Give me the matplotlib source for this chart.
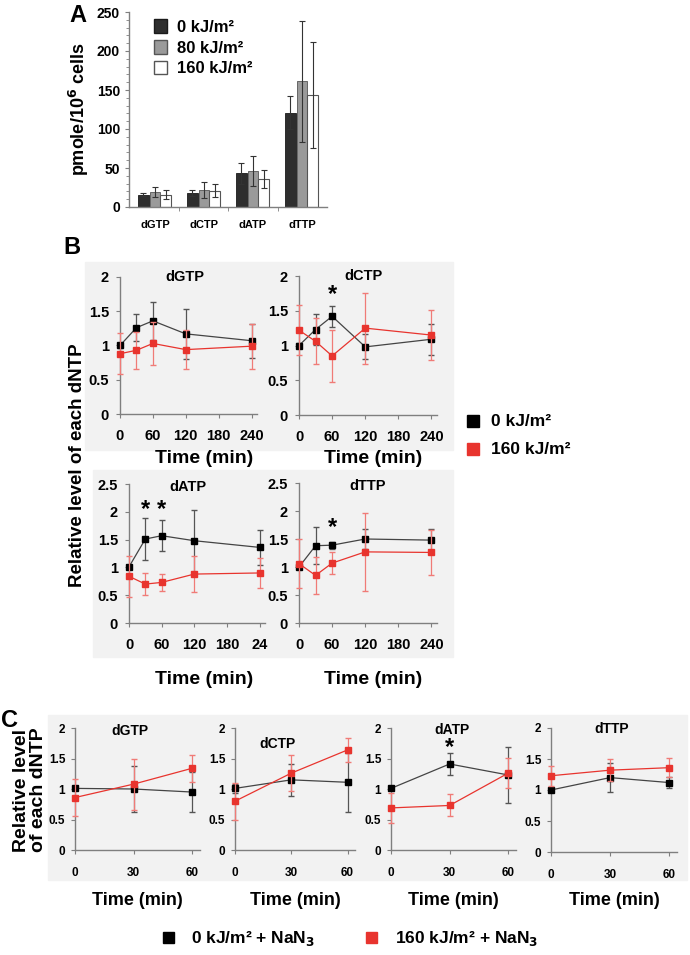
import numpy as np
import matplotlib
matplotlib.use('Agg')
import matplotlib.pyplot as plt
from matplotlib.patches import Rectangle, Patch

plt.rcParams['font.family'] = ['Liberation Sans', 'DejaVu Sans']

W, H = 690, 955

# panel A data
cats = ['dGTP', 'dCTP', 'dATP', 'dTTP']
a_0 = [16, 18, 43, 121]
a_0_err = [2.5, 4, 13, 21]
a_80 = [19, 22, 46, 161]
a_80_err = [6, 10, 19, 78]
a_160 = [16, 21, 36, 144]
a_160_err = [6, 8, 12, 68]

# panel B data (time course, min)
b_time = [0, 30, 60, 120, 240]
b_names = ['dGTP', 'dCTP', 'dATP', 'dTTP']
b_ctrl = {
    'dGTP': [1.0, 1.26, 1.36, 1.17, 1.07],
    'dCTP': [1.0, 1.23, 1.42, 0.98, 1.09],
    'dATP': [1.01, 1.51, 1.57, 1.48, 1.36],
    'dTTP': [1.0, 1.38, 1.39, 1.5, 1.48],
}
b_ctrl_err = {
    'dGTP': [0.03, 0.2, 0.28, 0.36, 0.25],
    'dCTP': [0.03, 0.22, 0.15, 0.18, 0.22],
    'dATP': [0.03, 0.37, 0.28, 0.56, 0.32],
    'dTTP': [0.03, 0.33, 0.06, 0.18, 0.19],
}
b_uv = {
    'dGTP': [0.88, 0.93, 1.03, 0.94, 0.99],
    'dCTP': [1.22, 1.06, 0.85, 1.25, 1.15],
    'dATP': [0.84, 0.7, 0.73, 0.88, 0.9],
    'dTTP': [1.06, 0.85, 1.07, 1.27, 1.26],
}
b_uv_err = {
    'dGTP': [0.3, 0.27, 0.32, 0.29, 0.33],
    'dCTP': [0.36, 0.33, 0.37, 0.51, 0.36],
    'dATP': [0.37, 0.2, 0.15, 0.33, 0.27],
    'dTTP': [0.44, 0.33, 0.2, 0.69, 0.4],
}
b_stars = {'dCTP': [(60, 1.73)], 'dATP': [(30, 2.05), (60, 2.05)], 'dTTP': [(60, 1.7)]}
b_xticklabels = {
    'dGTP': ['0', '60', '120', '180', '240'],
    'dCTP': ['0', '60', '120', '180', '240'],
    'dATP': ['0', '60', '120', '180', '24'],
    'dTTP': ['0', '60', '120', '180', '240'],
}

# panel C data (with NaN3)
c_time = [0, 30, 60]
c_ctrl = {
    'dGTP': [1.01, 1.0, 0.95],
    'dCTP': [1.01, 1.15, 1.11],
    'dATP': [1.01, 1.41, 1.23],
    'dTTP': [1.0, 1.2, 1.12],
}
c_ctrl_err = {
    'dGTP': [0.03, 0.37, 0.33],
    'dCTP': [0.08, 0.26, 0.48],
    'dATP': [0.03, 0.18, 0.46],
    'dTTP': [0.03, 0.24, 0.09],
}
c_uv = {
    'dGTP': [0.86, 1.08, 1.34],
    'dCTP': [0.8, 1.26, 1.64],
    'dATP': [0.69, 0.73, 1.26],
    'dTTP': [1.23, 1.32, 1.36],
}
c_uv_err = {
    'dGTP': [0.31, 0.42, 0.22],
    'dCTP': [0.3, 0.29, 0.19],
    'dATP': [0.24, 0.18, 0.25],
    'dTTP': [0.16, 0.18, 0.15],
}
c_stars = {'dATP': [(30, 1.68)]}

RED = '#e8342e'
AXC = '#7f7f7f'


def box(l, t, r, b):
    return [l / W, 1 - b / H, (r - l) / W, (b - t) / H]


def bg(l, t, r, b):
    fig.patches.append(Rectangle((l / W, 1 - b / H), (r - l) / W, (b - t) / H,
                                 transform=fig.transFigure, color='#f2f2f2', zorder=-10))


def square(l, t, size, color):
    fig.patches.append(Rectangle((l / W, 1 - (t + size) / H), size / W, size / H,
                                 transform=fig.transFigure, color=color, zorder=2))


def style_axes(ax, fs):
    for s in ['top', 'right']:
        ax.spines[s].set_visible(False)
    for s in ['left', 'bottom']:
        ax.spines[s].set_color(AXC)
        ax.spines[s].set_linewidth(1.0)
    ax.tick_params(colors=AXC, labelcolor='black', length=3, width=0.8, labelsize=fs)
    for lab in ax.get_xticklabels() + ax.get_yticklabels():
        lab.set_fontweight('bold')
    ax.set_facecolor('none')


def draw_course(ax, t, ctrl, ctrl_err, uv, uv_err):
    ax.errorbar(t, ctrl, yerr=ctrl_err, color='#444444', lw=0.9, elinewidth=0.9,
                ecolor='#555555', capsize=2, marker='s', markersize=5,
                mfc='black', mec='black', zorder=3, clip_on=False)
    ax.errorbar(t, uv, yerr=uv_err, color=RED, lw=0.9, elinewidth=0.9,
                ecolor='#f07b77', capsize=2, marker='s', markersize=5,
                mfc=RED, mec=RED, zorder=4, clip_on=False)


fig = plt.figure(figsize=(W / 100, H / 100), dpi=100)

# gray panel backgrounds
bg(85, 262, 453, 450)
bg(93, 470, 453, 657)
bg(48, 715, 687, 880)

# ---------------- panel A ----------------
axA = fig.add_axes(box(129, 12, 327, 207))
x = np.arange(len(cats))
bw = 0.22
ek = dict(ecolor='#333333', elinewidth=0.8, capsize=2.5, capthick=0.8)
axA.bar(x - 0.235, a_0, bw, yerr=a_0_err, color='#2e2e2e', edgecolor='#1a1a1a', lw=0.6, error_kw=ek)
axA.bar(x, a_80, bw, yerr=a_80_err, color='#9a9a9a', edgecolor='#555555', lw=0.6, error_kw=ek)
axA.bar(x + 0.22, a_160, bw, yerr=a_160_err, color='white', edgecolor='#555555', lw=0.8, error_kw=ek)
axA.set_xlim(-0.53, 3.51)
axA.set_ylim(0, 250)
axA.set_yticks(np.arange(0, 251, 50))
axA.set_yticks(np.arange(0, 251, 10), minor=True)
axA.set_xticks(x)
axA.set_xticklabels(cats)
axA.set_xticks([0.5, 1.5, 2.5], minor=True)
style_axes(axA, 10)
axA.tick_params(axis='x', which='major', length=0, labelsize=8, pad=9)
axA.tick_params(axis='x', which='minor', length=3, color=AXC)
axA.tick_params(axis='y', which='minor', length=2, color=AXC)
axA.set_ylabel('pmole/10$^\\mathbf{6}$ cells', fontsize=13, fontweight='bold', labelpad=4)
handles = [Patch(facecolor='#2e2e2e', edgecolor='#1a1a1a'),
           Patch(facecolor='#9a9a9a', edgecolor='#555555'),
           Patch(facecolor='white', edgecolor='#555555')]
axA.legend(handles, ['0 kJ/m²', '80 kJ/m²', '160 kJ/m²'], loc='upper left',
           bbox_to_anchor=(0.05, 1.04), frameon=False, prop={'weight': 'bold', 'size': 12},
           handlelength=0.8, handleheight=0.9, handletextpad=0.6, labelspacing=0.3)
fig.text(78 / W, 1 - 16 / H, 'A', fontsize=17, fontweight='bold', ha='center', va='center')

# ---------------- panel B ----------------
b_pos = {
    'dGTP': (120, 277, 257, 414),
    'dCTP': (299, 276, 437, 415),
    'dATP': (129, 484, 265, 623),
    'dTTP': (299, 483, 437, 623),
}
b_title = {'dGTP': (118, 2.0), 'dCTP': (116, 2.0), 'dATP': (108, 2.45), 'dTTP': (125, 2.45)}
for name in b_names:
    ax = fig.add_axes(box(*b_pos[name]))
    draw_course(ax, b_time, b_ctrl[name], b_ctrl_err[name], b_uv[name], b_uv_err[name])
    ax.set_xlim(0, 250)
    top = 2.0 if name in ('dGTP', 'dCTP') else 2.5
    ax.set_ylim(0, top)
    ax.set_yticks(np.arange(0, top + 0.01, 0.5))
    ax.set_yticklabels(['0', '0.5', '1', '1.5', '2', '2.5'][:len(ax.get_yticks())])
    ax.set_xticks([0, 60, 120, 180, 240])
    ax.set_xticklabels(b_xticklabels[name])
    style_axes(ax, 10.5)
    ax.tick_params(axis='x', pad=8)
    ax.tick_params(axis='y', pad=5)
    tx, ty = b_title[name]
    ax.text(tx, ty, name, fontsize=10.5, fontweight='bold', ha='center', va='center')
    for sx, sy in b_stars.get(name, []):
        ax.text(sx, sy, '*', fontsize=17, fontweight='bold', ha='center', va='center')

for cx, cy in [(204, 458), (373, 458), (204, 680), (373, 680)]:
    fig.text(cx / W, 1 - cy / H, 'Time (min)', fontsize=14, fontweight='bold', ha='center', va='center')
fig.text(78 / W, 1 - 465 / H, 'Relative level of each dNTP', fontsize=13.5, fontweight='bold',
         rotation=90, ha='center', va='center')
fig.text(72 / W, 1 - 247 / H, 'B', fontsize=17, fontweight='bold', ha='center', va='center')

# legend B
square(467, 415, 12, 'black')
square(467, 443, 12, RED)
fig.text(491 / W, 1 - 421 / H, '0 kJ/m²', fontsize=12.5, fontweight='bold', va='center')
fig.text(491 / W, 1 - 449 / H, '160 kJ/m²', fontsize=12.5, fontweight='bold', va='center')

# ---------------- panel C ----------------
c_pos = {
    'dGTP': (75, 728, 200, 850),
    'dCTP': (235, 728, 355, 850),
    'dATP': (391, 728, 516, 850),
    'dTTP': (551, 728, 677, 852),
}
c_title = {'dGTP': (28, 1.95), 'dCTP': (22.5, 1.73), 'dATP': (31, 1.97), 'dTTP': (31, 1.98)}
for name in b_names:
    ax = fig.add_axes(box(*c_pos[name]))
    draw_course(ax, c_time, c_ctrl[name], c_ctrl_err[name], c_uv[name], c_uv_err[name])
    ax.set_xlim(0, 64)
    ax.set_ylim(0, 2)
    ax.set_yticks([0, 0.5, 1, 1.5, 2])
    ax.set_yticklabels(['0', '0.5', '1', '1.5', '2'])
    ax.set_xticks(c_time)
    ax.set_xticklabels([str(v) for v in c_time])
    style_axes(ax, 8.5)
    ax.tick_params(axis='x', pad=9)
    ax.tick_params(axis='y', pad=4)
    tx, ty = c_title[name]
    ax.text(tx, ty, name, fontsize=10, fontweight='bold', ha='center', va='center')
    for sx, sy in c_stars.get(name, []):
        ax.text(sx, sy, '*', fontsize=17, fontweight='bold', ha='center', va='center')
    l, t, r, b = c_pos[name]
    fig.text((l + r) / 2 / W, 1 - 900 / H, 'Time (min)', fontsize=13, fontweight='bold',
             ha='center', va='center')

fig.text(30 / W, 1 - 790 / H, 'Relative level\nof each dNTP', fontsize=14, fontweight='bold',
         rotation=90, ha='center', va='center', linespacing=1.0)
fig.text(9 / W, 1 - 720 / H, 'C', fontsize=17, fontweight='bold', ha='center', va='center')

# legend C
square(163, 932, 11, 'black')
square(366, 932, 11, RED)
fig.text(191 / W, 1 - 938 / H, '0 kJ/m² + NaN$_\\mathbf{3}$', fontsize=12.5, fontweight='bold', va='center')
fig.text(395 / W, 1 - 938 / H, '160 kJ/m² + NaN$_\\mathbf{3}$', fontsize=12.5, fontweight='bold', va='center')

fig.savefig('out.png', dpi=100, facecolor='white')
